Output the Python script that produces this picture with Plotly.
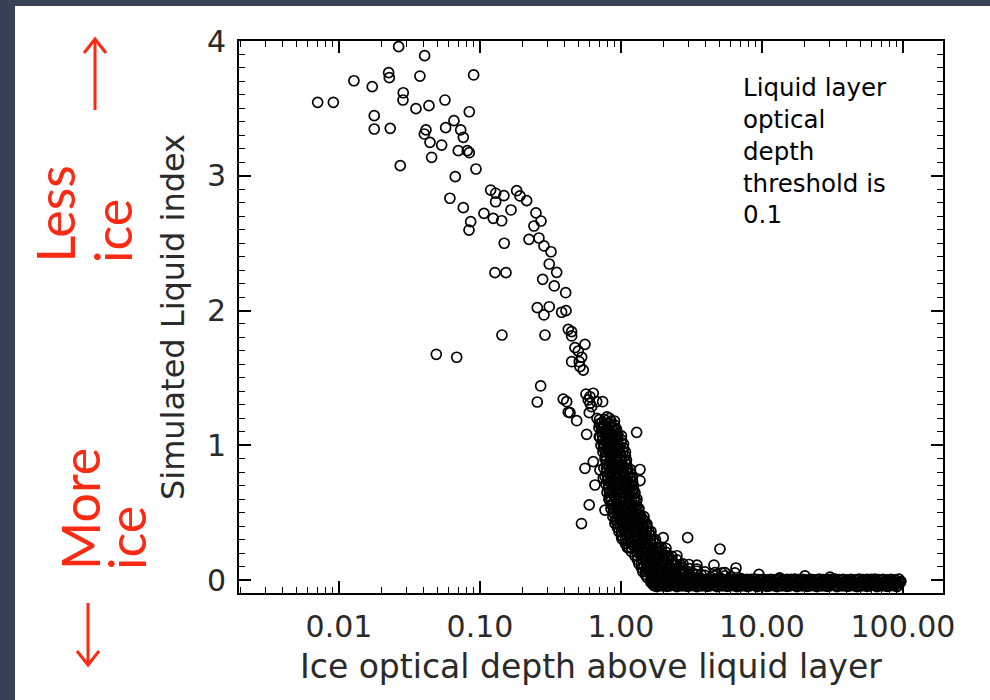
import plotly.graph_objects as go

# ---------------- data ----------------
# sparse upper-left cloud
upper_x = [0.00706, 0.00912, 0.01277, 0.01722, 0.02251, 0.02275, 0.0265, 0.0405, 0.0375, 0.0902,
           0.01779, 0.01779, 0.0231, 0.02857, 0.02844, 0.03516, 0.04348, 0.05646, 0.0840, 0.0654,
           0.0571, 0.0414, 0.0403, 0.0442, 0.0535, 0.0730, 0.0762, 0.0702, 0.0813, 0.0840,
           0.0454, 0.0272, 0.0937, 0.0668, 0.0612, 0.0762, 0.0859, 0.0836, 0.1191, 0.1292,
           0.1292, 0.1479, 0.1821, 0.1922, 0.2144, 0.1660, 0.1067, 0.1242, 0.1425, 0.1486,
           0.2227, 0.1277, 0.1529, 0.2495, 0.271, 0.262, 0.2844, 0.2415]
upper_y = [3.545, 3.545, 3.705, 3.661, 3.765, 3.728, 3.958, 3.891, 3.740, 3.748,
           3.446, 3.347, 3.352, 3.616, 3.562, 3.498, 3.520, 3.562, 3.475, 3.409,
           3.357, 3.340, 3.310, 3.248, 3.228, 3.340, 3.285, 3.186, 3.186, 3.171,
           3.137, 3.075, 3.050, 2.993, 2.833, 2.763, 2.659, 2.597, 2.894, 2.870,
           2.807, 2.852, 2.889, 2.850, 2.815, 2.746, 2.721, 2.684, 2.666, 2.499,
           2.528, 2.281, 2.281, 2.724, 2.664, 2.538, 2.479, 2.627]

# middle part of the decline
mid_x = [0.319, 0.310, 0.350, 0.2785, 0.3365, 0.4055, 0.2549, 0.310, 0.2844, 0.3796,
         0.4074, 0.4229, 0.4469, 0.4469, 0.1432, 0.2891, 0.5555, 0.4718, 0.4980, 0.5263,
         0.4469, 0.5061, 0.5405, 0.5119, 0.0490, 0.0684, 0.2694, 0.2549, 0.3898, 0.4229,
         0.4853, 0.5648, 0.6026, 0.636, 0.5862, 0.6725, 0.7413, 0.6194, 0.5957, 0.5711,
         0.7296, 0.7701, 0.7015, 0.8355, 0.8818, 0.7487, 0.412, 0.6026, 0.4348]
mid_y = [2.436, 2.345, 2.283, 2.231, 2.182, 2.132, 2.021, 2.028, 1.967, 1.987,
         1.999, 1.860, 1.843, 1.811, 1.818, 1.818, 1.749, 1.724, 1.699, 1.653,
         1.620, 1.620, 1.558, 1.583, 1.675, 1.653, 1.440, 1.321, 1.343, 1.245,
         1.182, 1.380, 1.360, 1.386, 1.336, 1.323, 1.323, 1.286, 1.242, 1.081,
         1.138, 1.113, 1.063, 1.052, 1.002, 1.014, 1.323, 1.311, 1.242]

# isolated points around the lower part
low_x = [1.292, 1.364, 1.364, 0.5555, 0.636, 0.7097, 0.7487, 0.6541, 0.5957, 0.7701,
         0.8260, 0.5248, 1.012, 1.112, 1.524, 1.995, 1.860, 1.708, 2.972, 2.774,
         4.567, 5.036, 5.203, 6.542, 6.435, 9.52, 13.33, 20.18, 30.4]
low_y = [1.096, 0.820, 0.738, 0.829, 0.878, 0.816, 0.755, 0.705, 0.557, 0.519,
         0.594, 0.419, 0.309, 0.240, 0.395, 0.314, 0.240, 0.165, 0.314, 0.067,
         0.111, 0.230, 0.053, 0.089, 0.053, 0.041, 0.016, 0.030, 0.022]

# dense descending band (first set)
band_x = [0.676, 0.733, 0.796, 0.849,
          0.698, 0.757, 0.822, 0.891,
          0.709, 0.770, 0.835, 0.906, 0.952,
          0.721, 0.783, 0.849, 0.922, 1.0,
          0.745, 0.809, 0.877, 0.952, 1.033,
          0.770, 0.835, 0.906, 0.984, 1.068,
          0.757, 0.822, 0.891, 0.968, 1.050, 1.121,
          0.770, 0.835, 0.906, 0.984, 1.068, 1.158,
          0.783, 0.849, 0.922, 1.0, 1.085, 1.177,
          0.796, 0.863, 0.937, 1.016, 1.103, 1.196, 1.257,
          0.822, 0.891, 0.968, 1.050, 1.140, 1.236, 1.299,
          0.849, 0.922, 1.0, 1.085, 1.177, 1.277, 1.341,
          0.877, 0.952, 1.033, 1.121, 1.216, 1.320, 1.386,
          0.906, 0.984, 1.068, 1.158, 1.257, 1.363, 1.480,
          0.968, 1.050, 1.140, 1.236, 1.341, 1.456, 1.579,
          1.033, 1.121, 1.216, 1.320, 1.432, 1.554, 1.686,
          1.140, 1.236, 1.341, 1.456, 1.579, 1.714, 1.859,
          1.257, 1.363, 1.480, 1.605, 1.742, 1.890, 2.051, 2.189,
          1.341, 1.456, 1.579, 1.714, 1.859, 2.018, 2.189, 2.414, 2.664,
          1.432, 1.554, 1.686, 1.829, 1.985, 2.154, 2.337, 2.577, 2.843, 3.241, 3.694,
          1.529, 1.686, 1.859, 2.051, 2.262, 2.494, 2.843, 3.241, 3.694, 4.349, 5.120, 6.028, 7.098]
band_y = [1.20, 1.17, 1.21, 1.18,
          1.13, 1.14, 1.12, 1.13,
          1.06, 1.08, 1.07, 1.05, 1.08,
          1.00, 1.02, 1.01, 0.99, 1.02,
          0.95, 0.96, 0.94, 0.96, 0.95,
          0.90, 0.88, 0.89, 0.90, 0.88,
          0.83, 0.84, 0.82, 0.83, 0.84, 0.82,
          0.77, 0.78, 0.76, 0.77, 0.78, 0.76,
          0.71, 0.72, 0.70, 0.71, 0.72, 0.70,
          0.65, 0.66, 0.64, 0.65, 0.66, 0.64, 0.65,
          0.60, 0.58, 0.59, 0.60, 0.58, 0.59, 0.60,
          0.53, 0.54, 0.52, 0.53, 0.54, 0.52, 0.53,
          0.47, 0.48, 0.46, 0.48, 0.47, 0.48, 0.46,
          0.42, 0.41, 0.43, 0.42, 0.41, 0.42, 0.43,
          0.36, 0.37, 0.35, 0.36, 0.37, 0.35, 0.36,
          0.30, 0.29, 0.31, 0.30, 0.29, 0.31, 0.30,
          0.24, 0.25, 0.23, 0.24, 0.25, 0.23, 0.24,
          0.18, 0.19, 0.17, 0.18, 0.19, 0.17, 0.18, 0.17,
          0.12, 0.11, 0.13, 0.12, 0.11, 0.12, 0.11, 0.12, 0.11,
          0.06, 0.07, 0.05, 0.06, 0.07, 0.05, 0.06, 0.05, 0.06, 0.05, 0.04,
          0.02, 0.03, 0.01, 0.02, 0.03, 0.01, 0.02, 0.02, 0.01, 0.02, 0.01, 0.02, 0.01]

# dense descending band (second and third, interleaved sets)
band2_x = [0.704, 0.764, 0.829, 0.899,
           0.727, 0.789, 0.856, 0.929,
           0.739, 0.802, 0.870, 0.944, 1.008,
           0.751, 0.815, 0.884, 0.960, 1.042,
           0.776, 0.842, 0.914, 0.992, 1.076,
           0.789, 0.856, 0.929, 1.008, 1.094,
           0.789, 0.856, 0.929, 1.008, 1.094, 1.168,
           0.802, 0.870, 0.944, 1.025, 1.112, 1.207,
           0.815, 0.884, 0.960, 1.042, 1.130, 1.226,
           0.829, 0.899, 0.976, 1.059, 1.149, 1.247,
           0.856, 0.929, 1.008, 1.094, 1.187, 1.288,
           0.884, 0.960, 1.042, 1.130, 1.226, 1.331,
           0.914, 0.992, 1.076, 1.168, 1.267, 1.375, 1.456,
           0.944, 1.025, 1.112, 1.207, 1.309, 1.421, 1.529,
           1.008, 1.094, 1.187, 1.288, 1.398, 1.517, 1.632,
           1.076, 1.168, 1.267, 1.375, 1.492, 1.619, 1.757,
           1.187, 1.288, 1.398, 1.517, 1.645, 1.785, 1.937, 2.085,
           1.309, 1.421, 1.541, 1.673, 1.815, 1.969, 2.136, 2.299, 2.494,
           1.398, 1.517, 1.645, 1.785, 1.937, 2.102, 2.281, 2.494, 2.752, 3.035, 3.459,
           1.492, 1.632, 1.800, 1.985, 2.189, 2.414, 2.664, 3.035, 3.459, 3.941, 4.640, 5.463]
band2_y = [1.16, 1.15, 1.16, 1.15,
           1.10, 1.10, 1.09, 1.10,
           1.04, 1.04, 1.03, 1.04, 1.04,
           0.98, 0.98, 0.97, 0.98, 0.98,
           0.92, 0.92, 0.91, 0.92, 0.92,
           0.86, 0.86, 0.85, 0.86, 0.86,
           0.80, 0.80, 0.79, 0.80, 0.80, 0.79,
           0.74, 0.74, 0.73, 0.74, 0.74, 0.73,
           0.68, 0.68, 0.67, 0.68, 0.68, 0.67,
           0.62, 0.62, 0.61, 0.62, 0.62, 0.61,
           0.56, 0.56, 0.55, 0.56, 0.56, 0.55,
           0.50, 0.50, 0.49, 0.50, 0.50, 0.49,
           0.445, 0.44, 0.45, 0.445, 0.44, 0.45, 0.445,
           0.39, 0.385, 0.39, 0.395, 0.385, 0.39, 0.39,
           0.33, 0.33, 0.325, 0.33, 0.335, 0.33, 0.33,
           0.27, 0.27, 0.265, 0.27, 0.275, 0.27, 0.27,
           0.21, 0.21, 0.205, 0.21, 0.215, 0.21, 0.21, 0.205,
           0.15, 0.15, 0.145, 0.15, 0.155, 0.15, 0.15, 0.145, 0.15,
           0.09, 0.09, 0.085, 0.09, 0.095, 0.09, 0.09, 0.085, 0.09, 0.085, 0.08,
           0.04, 0.04, 0.035, 0.04, 0.045, 0.04, 0.04, 0.035, 0.04, 0.035, 0.03, 0.03]
band3_x = [0.704, 0.764, 0.829, 0.899,
           0.727, 0.789, 0.856, 0.929,
           0.739, 0.802, 0.870, 0.944, 1.008,
           0.751, 0.815, 0.884, 0.960, 1.042,
           0.776, 0.842, 0.914, 0.992, 1.076,
           0.789, 0.856, 0.929, 1.008, 1.094,
           0.789, 0.856, 0.929, 1.008, 1.094, 1.168,
           0.802, 0.870, 0.944, 1.025, 1.112, 1.207,
           0.815, 0.884, 0.960, 1.042, 1.130, 1.226,
           0.829, 0.899, 0.976, 1.059, 1.149, 1.247,
           0.856, 0.929, 1.008, 1.094, 1.187, 1.288,
           0.884, 0.960, 1.042, 1.130, 1.226, 1.331,
           0.914, 0.992, 1.076, 1.168, 1.267, 1.375, 1.456,
           0.944, 1.025, 1.112, 1.207, 1.309, 1.421, 1.529,
           1.008, 1.094, 1.187, 1.288, 1.398, 1.517, 1.632,
           1.076, 1.168, 1.267, 1.375, 1.492, 1.619, 1.757,
           1.187, 1.288, 1.398, 1.517, 1.645, 1.785, 1.937, 2.085,
           1.309, 1.421, 1.541, 1.673, 1.815, 1.969, 2.136, 2.299, 2.494,
           1.398, 1.517, 1.645, 1.785, 1.937, 2.102, 2.281, 2.494, 2.752, 3.035, 3.459,
           1.492, 1.632, 1.800, 1.985, 2.189, 2.414, 2.664, 3.035, 3.459, 3.941, 4.640, 5.463]
band3_y = [1.19, 1.19, 1.20, 1.18,
           1.13, 1.12, 1.13, 1.12,
           1.07, 1.06, 1.07, 1.06, 1.07,
           1.01, 1.00, 1.01, 1.00, 1.01,
           0.95, 0.94, 0.95, 0.94, 0.95,
           0.89, 0.89, 0.88, 0.89, 0.89,
           0.83, 0.83, 0.82, 0.83, 0.83, 0.82,
           0.77, 0.77, 0.76, 0.77, 0.77, 0.76,
           0.71, 0.71, 0.70, 0.71, 0.71, 0.70,
           0.65, 0.65, 0.64, 0.65, 0.65, 0.64,
           0.59, 0.59, 0.58, 0.59, 0.59, 0.58,
           0.53, 0.53, 0.52, 0.53, 0.53, 0.52,
           0.47, 0.47, 0.48, 0.47, 0.47, 0.48, 0.47,
           0.415, 0.41, 0.415, 0.42, 0.41, 0.415, 0.415,
           0.36, 0.36, 0.355, 0.36, 0.365, 0.36, 0.36,
           0.30, 0.30, 0.295, 0.30, 0.305, 0.30, 0.30,
           0.24, 0.24, 0.235, 0.24, 0.245, 0.24, 0.24, 0.235,
           0.18, 0.18, 0.175, 0.18, 0.185, 0.18, 0.18, 0.175, 0.18,
           0.12, 0.12, 0.115, 0.12, 0.125, 0.12, 0.12, 0.115, 0.12, 0.115, 0.11,
           0.065, 0.065, 0.06, 0.065, 0.07, 0.065, 0.065, 0.06, 0.065, 0.06, 0.055, 0.055]

# flat band near zero (rows of overlapping points)
flat1_x = [1.632, 1.686, 1.742, 1.800, 1.859, 1.921, 1.985, 2.051, 2.119, 2.189,
           2.262, 2.337, 2.414, 2.494, 2.577, 2.664, 2.752, 2.843, 2.938, 3.035,
           3.136, 3.240, 3.348, 3.459, 3.574, 3.692, 3.815, 3.941, 4.072, 4.207,
           4.347, 4.491, 4.640, 4.794, 4.953, 5.118, 5.288, 5.463, 5.645, 5.832,
           6.026, 6.226, 6.432, 6.646, 6.866, 7.094, 7.33, 7.57, 7.82, 8.08,
           8.35, 8.63, 8.92, 9.21, 9.52, 9.84, 10.16, 10.50, 10.85, 11.21,
           11.58, 11.97, 12.36, 12.77, 13.20, 13.64, 14.09, 14.56, 15.04, 15.54,
           16.06, 16.59, 17.14, 17.71, 18.30, 18.91, 19.53, 20.18, 20.85, 21.55,
           22.26, 23.00, 23.76, 24.55, 25.37, 26.21, 27.08, 27.98, 28.91, 29.87,
           30.86, 31.88, 32.94, 34.03, 35.16, 36.33, 37.54, 38.78, 40.07, 41.40,
           42.77, 44.19, 45.66, 47.17, 48.74, 50.36, 52.03, 53.75, 55.54, 57.38,
           59.29, 61.25, 63.29, 65.39, 67.56, 69.80, 72.12, 74.51, 76.98, 79.54,
           82.18, 84.90, 87.72, 90.63, 93.64, 96.75]
flat1_y = [0.005, -0.012, 0.002, -0.015, 0.006, -0.01, 0.003, -0.014, 0.005, -0.012,
           0.004, -0.013, 0.006, -0.011, 0.003, -0.015, 0.005, -0.012, 0.002, -0.014,
           0.005, -0.012, 0.002, -0.015, 0.006, -0.01, 0.003, -0.014, 0.005, -0.012,
           0.004, -0.013, 0.006, -0.011, 0.003, -0.015, 0.005, -0.012, 0.002, -0.014,
           0.005, -0.012, 0.002, -0.015, 0.006, -0.01, 0.003, -0.014, 0.005, -0.012,
           0.004, -0.013, 0.006, -0.011, 0.003, -0.015, 0.005, -0.012, 0.002, -0.014,
           0.005, -0.012, 0.002, -0.015, 0.006, -0.01, 0.003, -0.014, 0.005, -0.012,
           0.004, -0.013, 0.006, -0.011, 0.003, -0.015, 0.005, -0.012, 0.002, -0.014,
           0.005, -0.012, 0.002, -0.015, 0.006, -0.01, 0.003, -0.014, 0.005, -0.012,
           0.004, -0.013, 0.006, -0.011, 0.003, -0.015, 0.005, -0.012, 0.002, -0.014,
           0.005, -0.012, 0.002, -0.015, 0.006, -0.01, 0.003, -0.014, 0.005, -0.012,
           0.004, -0.013, 0.006, -0.011, 0.003, -0.015, 0.005, -0.012, 0.002, -0.014,
           0.005, -0.012, 0.002, -0.015, 0.006, -0.01]
flat2_x = [1.659, 1.714, 1.771, 1.830, 1.890, 1.953, 2.018, 2.085, 2.154, 2.225,
           2.299, 2.375, 2.454, 2.535, 2.619, 2.708, 2.797, 2.890, 2.986, 3.085,
           3.188, 3.293, 3.403, 3.516, 3.633, 3.753, 3.878, 4.006, 4.139, 4.276,
           4.419, 4.565, 4.716, 4.873, 5.035, 5.202, 5.375, 5.553, 5.738, 5.928,
           6.125, 6.329, 6.538, 6.755, 6.979, 7.211, 7.451, 7.695, 7.949, 8.213,
           8.488, 8.772, 9.067, 9.362, 9.677, 10.00, 10.33, 10.67, 11.03, 11.39,
           11.77, 12.17, 12.56, 12.98, 13.42, 13.86, 14.32, 14.80, 15.29, 15.80,
           16.32, 16.86, 17.42, 18.00, 18.60, 19.22, 19.85, 20.51, 21.19, 21.90,
           22.63, 23.38, 24.15, 24.95, 25.79, 26.64, 27.53, 28.44, 29.39, 30.36,
           31.37, 32.41, 33.48, 34.59, 35.74, 36.93, 38.16, 39.42, 40.73, 42.08,
           43.47, 44.92, 46.41, 47.95, 49.54, 51.19, 52.89, 54.64, 56.45, 58.33,
           60.27, 62.26, 64.33, 66.47, 68.67, 70.95, 73.31, 75.74, 78.25, 80.85,
           83.53, 86.30, 89.16, 92.12, 95.18]
flat2_y = [-0.024, -0.042, -0.027, -0.04, -0.022, -0.044, -0.026, -0.041, -0.023, -0.043,
           -0.025, -0.04, -0.022, -0.042, -0.027, -0.044, -0.024, -0.041, -0.023, -0.043,
           -0.024, -0.042, -0.027, -0.04, -0.022, -0.044, -0.026, -0.041, -0.023, -0.043,
           -0.025, -0.04, -0.022, -0.042, -0.027, -0.044, -0.024, -0.041, -0.023, -0.043,
           -0.024, -0.042, -0.027, -0.04, -0.022, -0.044, -0.026, -0.041, -0.023, -0.043,
           -0.025, -0.04, -0.022, -0.042, -0.027, -0.044, -0.024, -0.041, -0.023, -0.043,
           -0.024, -0.042, -0.027, -0.04, -0.022, -0.044, -0.026, -0.041, -0.023, -0.043,
           -0.025, -0.04, -0.022, -0.042, -0.027, -0.044, -0.024, -0.041, -0.023, -0.043,
           -0.024, -0.042, -0.027, -0.04, -0.022, -0.044, -0.026, -0.041, -0.023, -0.043,
           -0.025, -0.04, -0.022, -0.042, -0.027, -0.044, -0.024, -0.041, -0.023, -0.043,
           -0.024, -0.042, -0.027, -0.04, -0.022, -0.044, -0.026, -0.041, -0.023, -0.043,
           -0.025, -0.04, -0.022, -0.042, -0.027, -0.044, -0.024, -0.041, -0.023, -0.043,
           -0.024, -0.042, -0.027, -0.04, -0.022]
flat3_x = [1.800, 2.119, 2.494, 2.938, 3.459, 4.072, 4.794, 5.645, 6.646, 7.82,
           9.21, 10.85, 12.77, 15.04, 17.71, 20.85, 24.55, 28.91, 34.03, 40.07,
           47.17, 55.54, 65.39, 76.98, 90.63]
flat3_y = [-0.05, -0.048, -0.05, -0.048, -0.05, -0.048, -0.05, -0.048, -0.05, -0.048,
           -0.05, -0.048, -0.05, -0.048, -0.05, -0.048, -0.05, -0.048, -0.05, -0.048,
           -0.05, -0.048, -0.05, -0.048, -0.05]
flat4_x = [1.632, 1.714, 1.800, 1.890, 1.985, 2.085, 2.189, 2.299, 2.414, 2.535,
           2.664, 2.797, 2.938, 3.085, 3.240, 3.403, 3.574, 3.753, 3.941, 4.139,
           4.347, 4.565, 4.794, 5.035, 5.288, 5.553, 5.832, 6.125, 6.432, 6.755,
           7.094, 7.451, 7.82, 8.213, 8.63, 9.067, 9.52, 10.00, 10.50, 11.03,
           11.58, 12.17, 12.77, 13.42, 14.09, 14.80, 15.54, 16.32, 17.14, 18.00,
           18.91, 19.85, 20.85, 21.90, 23.00, 24.15, 25.37, 26.64, 27.98, 29.39,
           30.86, 32.41, 34.03, 35.74, 37.54, 39.42, 41.40, 43.47, 45.66, 47.95,
           50.36, 52.89, 55.54, 58.33, 61.25, 64.33, 67.56, 70.95, 74.51, 78.25,
           82.18, 86.30, 90.63, 95.18]
flat4_y = [-0.018, -0.02, -0.016, -0.019, -0.017, -0.021, -0.018, -0.016, -0.02, -0.018,
           -0.017, -0.019, -0.021, -0.016, -0.018, -0.02, -0.017, -0.019, -0.018, -0.016,
           -0.02, -0.018, -0.017, -0.021, -0.019, -0.016, -0.018, -0.02, -0.017, -0.019,
           -0.018, -0.016, -0.02, -0.018, -0.017, -0.019, -0.021, -0.016, -0.018, -0.02,
           -0.017, -0.019, -0.018, -0.016, -0.02, -0.018, -0.017, -0.021, -0.019, -0.016,
           -0.018, -0.02, -0.017, -0.019, -0.018, -0.016, -0.02, -0.018, -0.017, -0.019,
           -0.021, -0.016, -0.018, -0.02, -0.017, -0.019, -0.018, -0.016, -0.02, -0.018,
           -0.017, -0.021, -0.019, -0.016, -0.018, -0.02, -0.017, -0.019, -0.018, -0.016,
           -0.02, -0.018, -0.017, -0.019]

x_tick_vals = [0.01, 0.1, 1, 10, 100]
x_tick_text = ["0.01", "0.10", "1.00", "10.00", "100.00"]
y_tick_vals = [0, 1, 2, 3, 4]

# ---------------- layout helpers ----------------
W, H = 990, 700
L, R, T, B = 239, 943, 41, 593


def px_x(p):
    return (p - L) / (R - L)


def px_y(p):
    return (B - p) / (B - T)


RED = "#fb2a12"
BG = "#394157"
AXFAM = "DejaVu Sans, Liberation Sans, sans-serif"
TXT = "#2a2a2a"
TICKFONT = dict(family=AXFAM, size=30, color=TXT)

fig = go.Figure()
all_x = (upper_x + mid_x + low_x + band_x + band2_x + band3_x
         + flat1_x + flat2_x + flat3_x + flat4_x)
all_y = (upper_y + mid_y + low_y + band_y + band2_y + band3_y
         + flat1_y + flat2_y + flat3_y + flat4_y)
fig.add_trace(go.Scatter(
    x=all_x, y=all_y, mode="markers",
    marker=dict(symbol="circle-open", size=10, color="black", line=dict(width=1.7, color="black")),
    showlegend=False, hoverinfo="x+y"))

minor_x = [k * 10.0 ** e for e in range(-3, 3) for k in range(2, 10)]

fig.update_xaxes(
    type="log", range=[-2.709, 2.284],
    tickmode="array", tickvals=x_tick_vals, ticktext=x_tick_text,
    ticks="inside", ticklen=12, tickwidth=1.6, tickcolor="black",
    showline=True, linecolor="black", linewidth=2, mirror="allticks",
    showgrid=False, zeroline=False, tickfont=TICKFONT, ticklabelstandoff=6,
    minor=dict(ticks="inside", ticklen=6, tickwidth=1.4, tickcolor="black",
               tickmode="array", tickvals=minor_x, showgrid=False),
)
fig.update_yaxes(
    range=[-0.0965, 4.0],
    tickmode="array", tickvals=y_tick_vals,
    ticks="inside", ticklen=12, tickwidth=1.6, tickcolor="black",
    showline=True, linecolor="black", linewidth=2, mirror="allticks",
    showgrid=False, zeroline=False, tickfont=TICKFONT, ticklabelstandoff=5,
    minor=dict(ticks="inside", ticklen=6, tickwidth=1.4, tickcolor="black",
               dtick=0.1, showgrid=False),
    title=dict(text="Simulated Liquid index",
               font=dict(family=AXFAM, size=32, color=TXT), standoff=13),
)

shapes = [
    dict(type="rect", xref="paper", yref="paper", layer="below",
         x0=px_x(15), x1=px_x(1000), y0=px_y(710), y1=px_y(6),
         fillcolor="white", line=dict(width=0)),
    # up arrow
    dict(type="path", xref="paper", yref="paper",
         path=f"M {px_x(95)},{px_y(110)} L {px_x(95)},{px_y(40)}",
         line=dict(color=RED, width=3)),
    dict(type="path", xref="paper", yref="paper",
         path=f"M {px_x(84)},{px_y(53)} L {px_x(95)},{px_y(39)} L {px_x(106)},{px_y(53)}",
         line=dict(color=RED, width=3)),
    # down arrow
    dict(type="path", xref="paper", yref="paper",
         path=f"M {px_x(88)},{px_y(603)} L {px_x(88)},{px_y(664)}",
         line=dict(color=RED, width=3)),
    dict(type="path", xref="paper", yref="paper",
         path=f"M {px_x(77)},{px_y(651)} L {px_x(88)},{px_y(665)} L {px_x(99)},{px_y(651)}",
         line=dict(color=RED, width=3)),
]

REDFONT = dict(family="Lato, Open Sans, sans-serif", size=52, color=RED)
annotations = [
    dict(text="Less", x=px_x(54), y=px_y(265), xref="paper", yref="paper",
         xanchor="center", yanchor="bottom", textangle=-90, showarrow=False, font=REDFONT),
    dict(text="ice", x=px_x(112), y=px_y(265), xref="paper", yref="paper",
         xanchor="center", yanchor="bottom", textangle=-90, showarrow=False, font=REDFONT),
    dict(text="More", x=px_x(80), y=px_y(572), xref="paper", yref="paper",
         xanchor="center", yanchor="bottom", textangle=-90, showarrow=False, font=REDFONT),
    dict(text="ice", x=px_x(126), y=px_y(572), xref="paper", yref="paper",
         xanchor="center", yanchor="bottom", textangle=-90, showarrow=False, font=REDFONT),
    dict(text="Liquid layer<br>optical<br>depth<br>threshold is<br>0.1",
         x=px_x(741), y=px_y(71), xref="paper", yref="paper",
         xanchor="left", yanchor="top", align="left", showarrow=False,
         font=dict(family="DejaVu Sans, sans-serif", size=24.5, color="black")),
    # x axis title
    dict(text="Ice optical depth above liquid layer", x=0.5, y=px_y(666),
         xref="paper", yref="paper", xanchor="center", yanchor="middle", showarrow=False,
         font=dict(family=AXFAM, size=33, color=TXT)),
]

fig.update_layout(
    width=W, height=H,
    margin=dict(l=L, r=W - R, t=T, b=H - B, autoexpand=False),
    paper_bgcolor=BG, plot_bgcolor="white",
    shapes=shapes, annotations=annotations,
    showlegend=False,
)

fig.write_html(
    "out.html",
    config={"displayModeBar": False},
    post_script=("document.body.style.margin='0px';"
                 "document.documentElement.style.overflow='hidden';"
                 "document.body.style.background='" + BG + "';"),
)
